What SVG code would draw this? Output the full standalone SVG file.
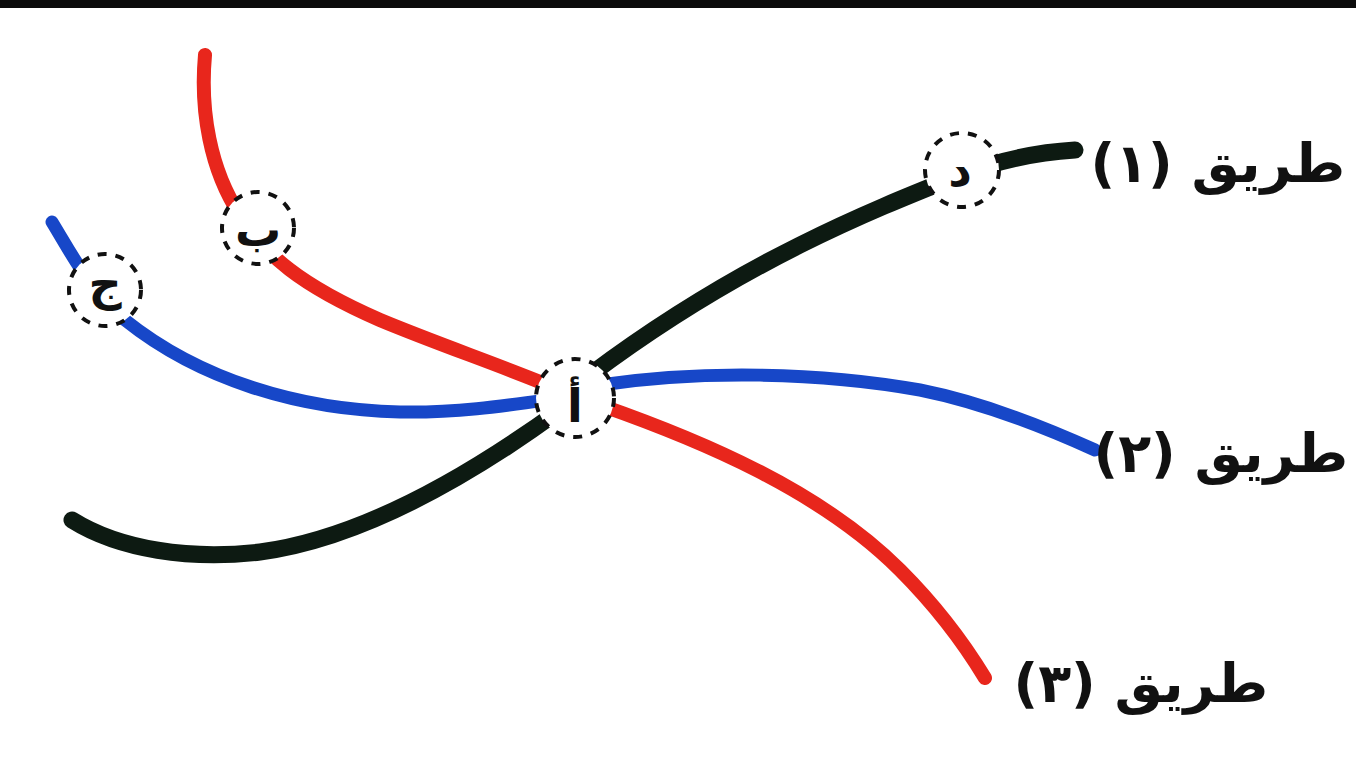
<svg xmlns="http://www.w3.org/2000/svg" width="1356" height="764" viewBox="0 0 1356 764">
<style>
.road{fill:none;stroke-linecap:round;stroke-linejoin:round}
.red{stroke:#e8261c;stroke-width:14}
.blue{stroke:#1747c8;stroke-width:13}
.black{stroke:#0d1a12;stroke-width:17}
.ring{fill:#ffffff;stroke:#111;stroke-width:4;stroke-dasharray:9 9}
.nl{font-family:"DejaVu Sans",sans-serif;font-weight:bold;font-size:46px;fill:#111;text-anchor:middle}
.lbl{font-family:"DejaVu Sans",sans-serif;font-weight:bold;font-size:54px;fill:#111}
</style>
<rect width="1356" height="764" fill="#ffffff"/>
<rect x="0" y="0" width="1356" height="8" fill="#0b0b0b"/>
<g id="connectors">
<path class="road red" d="M205,55 C200,110 210,170 240,215 C265,255 300,285 380,320 C440,345 500,365 560,390"/>
<path class="road red" d="M600,405 C700,440 820,490 900,570 C940,610 965,645 985,678"/>
<path class="road blue" d="M52,222 C75,260 90,290 125,320 C200,380 300,410 400,412 C460,413 510,405 560,398"/>
<path class="road blue" d="M600,385 C700,370 820,372 920,390 C980,402 1040,425 1095,450"/>
<path class="road black" d="M72,520 C120,550 190,560 260,552 C350,540 450,490 560,410"/>
<path class="road black" d="M590,375 C650,330 720,285 800,245 C860,215 910,195 960,175 C1000,160 1040,152 1075,150"/>
</g>
<g id="node-a"><circle class="ring" cx="575" cy="398" r="39"/><text class="nl" x="575" y="422">أ</text></g>
<g id="node-b"><circle class="ring" cx="258" cy="228" r="36"/><text class="nl" x="258" y="246">ب</text></g>
<g id="node-j"><circle class="ring" cx="105" cy="290" r="36"/><text class="nl" x="105" y="300">ج</text></g>
<g id="node-d"><circle class="ring" cx="962" cy="170" r="37"/><text class="nl" x="960" y="186">د</text></g>
<g id="label-1"><text class="lbl" x="1345" y="182" direction="rtl" text-anchor="start">طريق (١)</text></g>
<g id="label-2"><text class="lbl" x="1348" y="472" direction="rtl" text-anchor="start">طريق (٢)</text></g>
<g id="label-3"><text class="lbl" x="1268" y="702" direction="rtl" text-anchor="start">طريق (٣)</text></g>
</svg>
